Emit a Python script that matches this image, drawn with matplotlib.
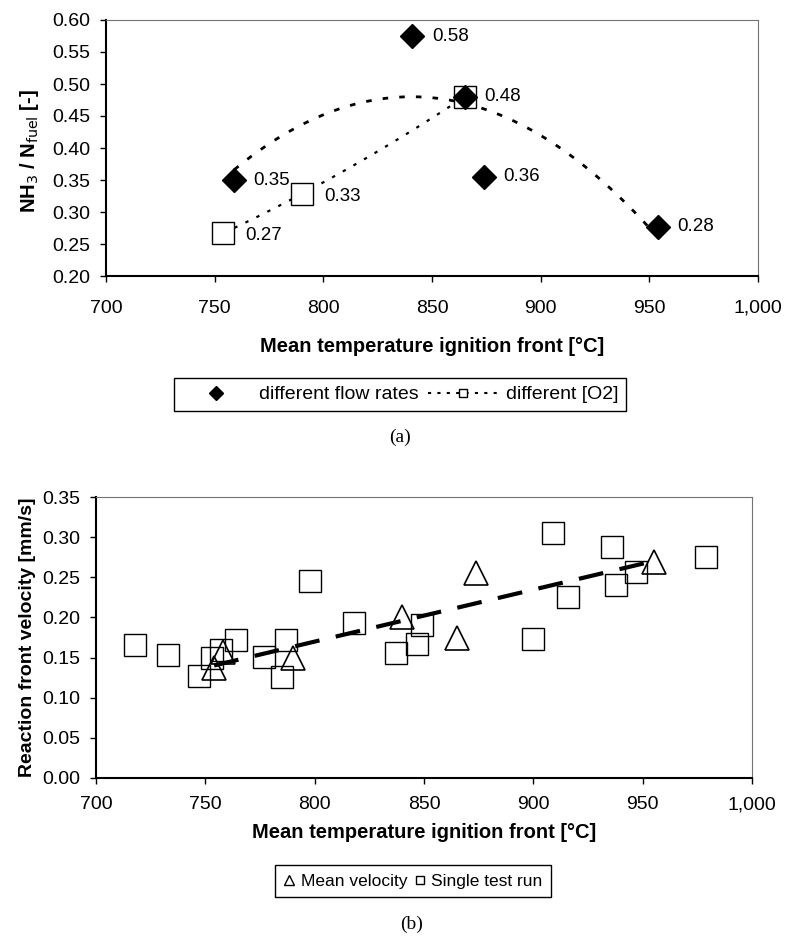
import numpy as np
import matplotlib.pyplot as plt
from matplotlib.lines import Line2D
from matplotlib.ticker import FuncFormatter, MultipleLocator

plt.rcParams['font.family'] = ['Liberation Sans', 'DejaVu Sans']

# (a) NH3 / N_fuel against mean ignition front temperature
flow_temp = [759, 841, 865, 874, 954]
flow_ratio = [0.35, 0.575, 0.48, 0.355, 0.277]
flow_labels = ["0.35", "0.58", "0.48", "0.36", "0.28"]

o2_temp = [754, 790, 865]
o2_ratio = [0.267, 0.328, 0.48]
o2_labels = ["0.27", "0.33", ""]   # 0.48 is shared with the flow-rate point

# (b) reaction front velocity
mean_temp = [754, 758, 790, 840, 865, 874, 955]
mean_vel = [0.137, 0.157, 0.149, 0.201, 0.174, 0.255, 0.269]

run_temp = [718, 733, 747, 753, 757, 764, 777, 785, 787, 798, 818,
            837, 847, 849, 900, 909, 916, 936, 938, 947, 979]
run_vel = [0.166, 0.153, 0.127, 0.150, 0.160, 0.172, 0.151, 0.126, 0.172, 0.245, 0.193,
           0.156, 0.167, 0.190, 0.173, 0.305, 0.226, 0.288, 0.241, 0.256, 0.275]

W, H = 787, 936
fig = plt.figure(figsize=(W / 100, H / 100), dpi=100)
serif = ["Liberation Serif", "DejaVu Serif"]


def style_axes(ax, xpad):
    for s in ("left", "bottom"):
        ax.spines[s].set_linewidth(1.5)
        ax.spines[s].set_color("black")
    for s in ("top", "right"):
        ax.spines[s].set_linewidth(0.8)
        ax.spines[s].set_color("0.45")
    ax.tick_params(direction="out", length=4, width=1, labelsize=14)
    ax.tick_params(axis="x", pad=xpad)
    ax.tick_params(axis="y", pad=7.5)
    ax.xaxis.set_major_locator(MultipleLocator(50))
    ax.xaxis.set_major_formatter(FuncFormatter(lambda v, p: f"{v:,.0f}"))
    ax.yaxis.set_major_formatter(FuncFormatter(lambda v, p: f"{v:.2f}"))
    ax.set_xlim(700, 1000)


# ---------------- panel (a) ----------------
ax1 = fig.add_axes([106 / W, 1 - 276 / H, 652 / W, 256 / H])
style_axes(ax1, xpad=13)
ax1.set_ylim(0.20, 0.60)
ax1.yaxis.set_major_locator(MultipleLocator(0.05))

# trendlines (2nd order polynomial)
cf = np.polyfit(flow_temp, flow_ratio, 2)
xs = np.linspace(min(flow_temp), max(flow_temp), 200)
ax1.plot(xs, np.polyval(cf, xs), color="black", lw=2, ls=(0, (2, 4)), zorder=2)

co = np.polyfit(o2_temp, o2_ratio, 2)
xs = np.linspace(min(o2_temp), max(o2_temp), 200)
ax1.plot(xs, np.polyval(co, xs), color="black", lw=1.6, ls=(0, (1.5, 4)), zorder=2)

ax1.plot(o2_temp, o2_ratio, ls="none", marker="s", ms=16, mfc="white",
         mec="black", mew=1, zorder=3)
ax1.plot(flow_temp, flow_ratio, ls="none", marker="D", ms=12.5, mfc="black",
         mec="black", zorder=4)

for x, y, t in zip(flow_temp, flow_ratio, flow_labels):
    ax1.annotate(t, (x, y), xytext=(14, 0), textcoords="offset points",
                 va="center", fontsize=13.5)
for x, y, t in zip(o2_temp, o2_ratio, o2_labels):
    ax1.annotate(t, (x, y), xytext=(16, -2), textcoords="offset points",
                 va="center", fontsize=13.5)

ax1.set_ylabel(r"NH$_3$ / N$_{\rm fuel}$ [-]", fontsize=14.5, fontweight="bold")
ax1.yaxis.set_label_coords(-0.1, 0.49)
ax1.set_xlabel("Mean temperature ignition front [°C]", fontsize=14.5, fontweight="bold")
ax1.xaxis.set_label_coords(0.5, -0.24)

leg_a = [
    Line2D([], [], ls="none", marker="D", ms=7, mfc="black", mec="black"),
    Line2D([], [], color="black", lw=1.5, ls=(0, (1.5, 3)), marker="s", ms=6,
           mfc="white", mec="black", mew=1),
]
fig.legend(leg_a, ["different flow rates", "different [O2]"], ncol=2,
           loc="center", bbox_to_anchor=(400 / W, 1 - 394.5 / H),
           fontsize=14, frameon=True, fancybox=False, edgecolor="black",
           framealpha=1, handlelength=3.6, handletextpad=0.4, columnspacing=0.5,
           borderpad=0.4)
fig.text(400 / W, 1 - 437 / H, "(a)", ha="center", va="center", fontsize=14,
         family=serif)

# ---------------- panel (b) ----------------
ax2 = fig.add_axes([96 / W, 1 - 778 / H, 656 / W, 281 / H])
style_axes(ax2, xpad=9)
ax2.set_ylim(0.0, 0.35)
ax2.yaxis.set_major_locator(MultipleLocator(0.05))

cl = np.polyfit(mean_temp, mean_vel, 1)
xs = np.array([min(mean_temp), max(mean_temp)])
ax2.plot(xs, np.polyval(cl, xs), color="black", lw=3, ls=(0, (6, 4)), zorder=4)

ax2.plot(run_temp, run_vel, ls="none", marker="s", ms=16.5, mfc="none",
         mec="black", mew=1, zorder=3)
ax2.plot(mean_temp, mean_vel, ls="none", marker="^", ms=17, mfc="none",
         mec="black", mew=1.2, zorder=3)

ax2.set_ylabel("Reaction front velocity [mm/s]", fontsize=14, fontweight="bold")
ax2.yaxis.set_label_coords(-0.092, 0.5)
ax2.set_xlabel("Mean temperature ignition front [°C]", fontsize=14.5, fontweight="bold")
ax2.xaxis.set_label_coords(0.5, -0.16)

leg_b = [
    Line2D([], [], ls="none", marker="^", ms=7, mfc="none", mec="black", mew=1),
    Line2D([], [], ls="none", marker="s", ms=6, mfc="none", mec="black", mew=1),
]
fig.legend(leg_b, ["Mean velocity", "Single test run"], ncol=2,
           loc="center", bbox_to_anchor=(413 / W, 1 - 881 / H),
           fontsize=12.5, frameon=True, fancybox=False, edgecolor="black",
           framealpha=1, handlelength=0.7, handletextpad=0.3, columnspacing=0.4,
           borderpad=0.5, borderaxespad=0.2)
fig.text(412 / W, 1 - 924 / H, "(b)", ha="center", va="center", fontsize=14,
         family=serif)

fig.savefig("out.png", dpi=100)
